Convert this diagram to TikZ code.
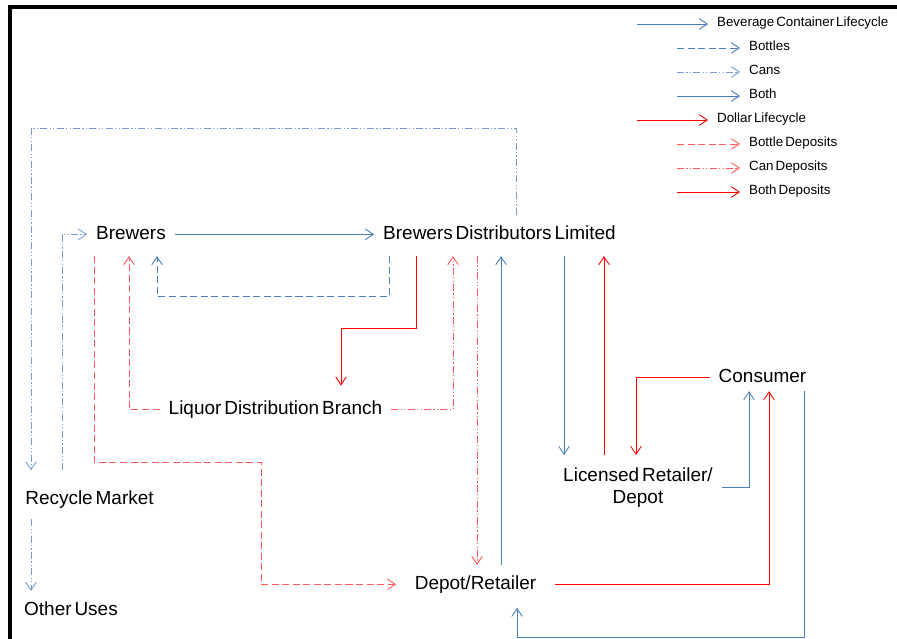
\documentclass[tikz,border=0pt]{standalone}
\usepackage{fontspec}
\setmainfont{Liberation Sans}[WordSpace=0.55]
\usepackage{xcolor}
\usetikzlibrary{arrows.meta}
\definecolor{lineblue}{RGB}{74,126,187}
\definecolor{paleblue}{RGB}{118,156,206}
\definecolor{linered}{RGB}{255,0,0}
\definecolor{palered}{RGB}{255,88,88}

\begin{document}
\begin{tikzpicture}[x=0.02cm, y=-0.02cm, >={Straight Barb[length=4.5pt,width=6pt]},
    txt/.style={font=\fontsize{10.8}{12.6}\selectfont, inner xsep=5pt},
    lbl/.style={txt, inner ysep=0pt, text height=13.5pt, text depth=9.5pt, anchor=base},
    legtxt/.style={font=\fontsize{7.6}{9}\selectfont, inner xsep=5pt, inner ysep=0pt, text height=5.5pt, text depth=0pt, anchor=west, yshift=1.1pt},
    both/.style={->, line width=0.5pt, lineblue},
    bottles/.style={both, dash pattern=on 4pt off 2pt},
    cans/.style={both, paleblue, dash pattern=on 4pt off 1.3pt on 0.7pt off 1.3pt on 0.7pt off 1.3pt},
    bothdep/.style={->, line width=0.5pt, linered},
    bottledep/.style={bothdep, palered, dash pattern=on 4pt off 2pt},
    candep/.style={bothdep, palered, dash pattern=on 4pt off 1.3pt on 0.7pt off 1.3pt on 0.7pt off 1.3pt}]
    \useasboundingbox (0,0) rectangle (897,639);
    \clip (0,0) rectangle (897,639);

    % Frame
    \draw[line width=2.3pt] (10,660) -- (10,7) -- (920,7);

    % Legend
    \foreach \i/\xa/\xb/\sty/\txt in {1/637/708/both/Beverage Container Lifecycle, 2/677/740/bottles/Bottles, 3/677/740/cans/Cans, 4/677/740/both/Both, 5/637/708/bothdep/Dollar Lifecycle, 6/677/740/bottledep/Bottle Deposits, 7/677/740/candep/Can Deposits, 8/677/740/bothdep/Both Deposits} {
        \coordinate (legs\i) at (\xa, 24*\i);
        \node[legtxt] (leg\i) at (\xb, 24*\i) {\txt};
        \draw[\sty] (legs\i) -- (legs\i -| leg\i.west);
    }

    % Stations
    \node[lbl] (brew) at (131,239) {Brewers};
    \node[lbl] (bdl) at (499.5,239) {Brewers Distributors Limited};
    \node[lbl, text height=16pt] (ldb) at (275.5,414) {Liquor Distribution Branch};
    \node[lbl, text depth=5pt] (cons) at (762.5,382) {Consumer};
    \node[txt, align=center, inner ysep=6.8pt, anchor=north] (lic) at (638,455) {Licensed Retailer/\\Depot};
    \node[lbl, text height=19pt, text depth=8.5pt] (rm) at (89.5,504) {Recycle Market};
    \node[lbl] (ou) at (71,615) {Other Uses};
    \node[lbl, inner xsep=10.5pt, text depth=10.5pt] (dep) at (475.5,589) {Depot/Retailer};

    % Containers (blue)
    \draw[both] (brew.mid east) -- (bdl.mid west);
    \draw[bottles] (bdl.south -| 389,0) -- ++(0,40) -| (brew.south -| 157,0);
    \draw[cans] (bdl.north -| 516,0) |- (31,128) -- (rm.north -| 31,0);
    \draw[cans] (rm.north -| 62,0) |- (brew.mid west);
    \draw[cans] (rm.south -| 31,0) -- (ou.north -| 31,0);
    \draw[both] (dep.north -| 501,0) -- (bdl.south -| 501,0);
    \draw[both] (bdl.south -| 564,0) -- (lic.north -| 564,0);
    \draw[both] (lic.east) -| (cons.south -| 749,0);
    \draw[both] (cons.south -| 804,0) |- (517,637) -- (dep.south -| 517,0);

    % Deposits (red)
    \draw[bottledep] (ldb.mid west) -| (brew.south -| 129,0);
    \draw[bottledep] (brew.south -| 94,0) |- (261,462) |- (dep.mid west);
    \draw[bothdep] (bdl.south -| 416,0) |- (341,328) -- (ldb.north -| 341,0);
    \draw[candep] (ldb.mid east) -| (bdl.south -| 453,0);
    \draw[candep] (bdl.south -| 477,0) -- (dep.north -| 477,0);
    \draw[bothdep] (lic.north -| 604,0) -- (bdl.south -| 604,0);
    \draw[bothdep] (cons.mid west) -| (lic.north -| 636,0);
    \draw[bothdep] (dep.mid east) -| (cons.south -| 769,0);
\end{tikzpicture}
\end{document}
